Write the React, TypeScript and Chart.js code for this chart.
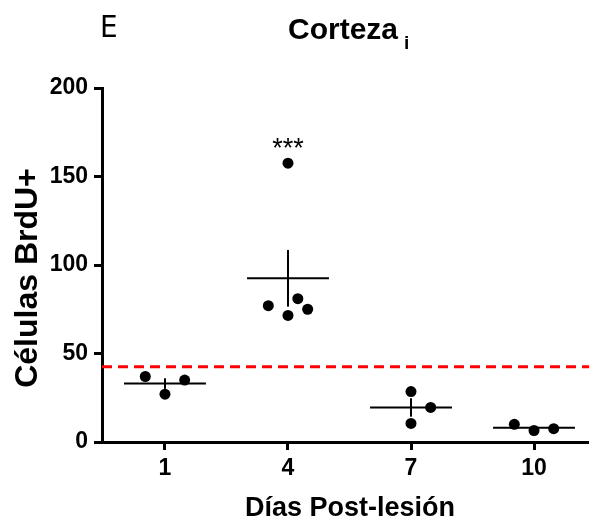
import React, { useEffect, useRef } from "react";
import { Chart, registerables } from "chart.js";

Chart.register(...registerables);

// ---- data ----
const days = ["1", "4", "7", "10"];
const day1Values = [37, 27, 35];
const day4Values = [157.5, 77, 81, 75, 71.5];
const day7Values = [28.5, 19.5, 10.5];
const day10Values = [10, 6.5, 7.5];
const day1Jitter = [-0.16, 0, 0.16];
const day4Jitter = [0, -0.16, 0.08, 0.16, 0];
const day7Jitter = [0, 0.16, 0];
const day10Jitter = [-0.16, 0, 0.16];
const groupMeans = [33, 92.5, 19.5, 8];
const groupSem = [3, 16, 5.2, 1.1];
const controlLevel = 42.5;
const yTicks = [0, 50, 100, 150, 200];
const panelLetter = "E";
const chartTitle = "Corteza";
const titleSub = "i";
const significance = "***";
const xTitle = "Días Post-lesión";
const yTitle = "Células BrdU+";

const groupValues = [day1Values, day4Values, day7Values, day10Values];
const groupJitter = [day1Jitter, day4Jitter, day7Jitter, day10Jitter];

const FONT = "'Liberation Sans', Arial, Helvetica, sans-serif";
const NARROW = "'Liberation Sans Narrow', 'DejaVu Sans Condensed', 'Liberation Sans', sans-serif";
const X_MIN = -0.512;
const X_MAX = 3.447;
const MEAN_HALF = 0.333;

export default function App() {
  const ref = useRef<HTMLCanvasElement | null>(null);

  useEffect(() => {
    const canvas = ref.current;
    if (!canvas) return;

    const points: { x: number; y: number }[] = [];
    groupValues.forEach((vals, gi) => {
      vals.forEach((v, k) => points.push({ x: gi + groupJitter[gi][k], y: v }));
    });

    const datasets: any[] = [
      {
        label: "points",
        data: points,
        backgroundColor: "#000",
        borderColor: "#000",
        pointRadius: 5.5,
        pointBorderWidth: 0,
        showLine: false,
      },
    ];
    groupMeans.forEach((m, gi) => {
      datasets.push({
        label: "mean" + gi,
        data: [
          { x: gi - MEAN_HALF, y: m },
          { x: gi + MEAN_HALF, y: m },
        ],
        showLine: true,
        borderColor: "#000",
        borderWidth: 2,
        pointRadius: 0,
      });
      datasets.push({
        label: "sem" + gi,
        data: [
          { x: gi, y: m - groupSem[gi] },
          { x: gi, y: m + groupSem[gi] },
        ],
        showLine: true,
        borderColor: "#000",
        borderWidth: 2,
        pointRadius: 0,
      });
    });
    datasets.push({
      label: "control",
      data: [
        { x: X_MIN, y: controlLevel },
        { x: X_MAX, y: controlLevel },
      ],
      showLine: true,
      borderColor: "#ff0000",
      borderWidth: 3,
      borderDash: [10, 6],
      pointRadius: 0,
    });

    const textPlugin = {
      id: "texts",
      beforeDraw(chart: any) {
        const ctx = chart.ctx;
        ctx.save();
        ctx.fillStyle = "#fff";
        ctx.fillRect(0, 0, chart.width, chart.height);
        ctx.restore();
      },
      afterDraw(chart: any) {
        const ctx = chart.ctx;
        const xs = chart.scales.x;
        const ys = chart.scales.y;
        ctx.save();
        ctx.fillStyle = "#000";
        ctx.textBaseline = "alphabetic";

        ctx.font = `normal 31px ${NARROW}`;
        ctx.textAlign = "left";
        ctx.fillText(panelLetter, 100, 37);

        ctx.font = `bold 30px ${FONT}`;
        ctx.textAlign = "left";
        ctx.fillText(chartTitle, 288, 39);
        const tw = ctx.measureText(chartTitle).width;
        ctx.font = `bold 19px ${FONT}`;
        ctx.fillText(titleSub, 288 + tw + 6, 49);

        // significance mark above the highest day-4 point
        ctx.font = `normal 27px ${FONT}`;
        ctx.textAlign = "center";
        const topVal = Math.max(...day4Values);
        ctx.fillText(significance, xs.getPixelForValue(1), ys.getPixelForValue(topVal) - 6);

        ctx.font = `bold 27px ${FONT}`;
        ctx.textAlign = "center";
        ctx.fillText(xTitle, 350, 516);

        ctx.save();
        ctx.translate(37, 278);
        ctx.rotate(-Math.PI / 2);
        ctx.font = `bold 32px ${FONT}`;
        ctx.textAlign = "center";
        ctx.fillText(yTitle, 0, 0);
        ctx.restore();

        ctx.restore();
      },
    };

    const tickFont = { family: FONT, size: 23, weight: "bold" as const };

    const chart = new Chart(canvas, {
      type: "scatter",
      data: { datasets },
      options: {
        animation: false,
        responsive: false,
        maintainAspectRatio: false,
        devicePixelRatio: 1,
        layout: { autoPadding: false, padding: { top: 88, left: 0, right: 0, bottom: 0 } },
        plugins: {
          legend: { display: false },
          tooltip: { enabled: false },
          title: { display: false },
        },
        scales: {
          x: {
            type: "linear",
            min: X_MIN,
            max: X_MAX,
            afterBuildTicks: (s: any) => {
              s.ticks = days.map((_, i) => ({ value: i }));
            },
            afterFit: (s: any) => {
              s.height = 85;
              s.paddingLeft = 0;
              s.paddingRight = 0;
            },
            ticks: {
              color: "#000",
              font: tickFont,
              padding: 5,
              autoSkip: false,
              maxRotation: 0,
              callback: (v: any) => days[Math.round(Number(v))] ?? "",
            },
            grid: {
              drawOnChartArea: false,
              drawTicks: true,
              tickLength: 8,
              color: "#000",
              lineWidth: 3,
            },
            border: { display: true, color: "#000", width: 3 },
          },
          y: {
            type: "linear",
            min: 0,
            max: 200,
            afterBuildTicks: (s: any) => {
              s.ticks = yTicks.map((v) => ({ value: v }));
            },
            afterFit: (s: any) => {
              s.width = 102;
              s.paddingTop = 0;
              s.paddingBottom = 0;
            },
            ticks: {
              color: "#000",
              font: tickFont,
              padding: 6,
            },
            grid: {
              drawOnChartArea: false,
              drawTicks: true,
              tickLength: 8,
              color: "#000",
              lineWidth: 3,
            },
            border: { display: true, color: "#000", width: 3 },
          },
        },
      },
      plugins: [textPlugin],
    });

    return () => chart.destroy();
  }, []);

  return (
    <div style={{ position: "fixed", left: 0, top: 0, width: 589, height: 527, background: "#fff" }}>
      <canvas ref={ref} width={589} height={527} style={{ display: "block", width: 589, height: 527 }} />
    </div>
  );
}
